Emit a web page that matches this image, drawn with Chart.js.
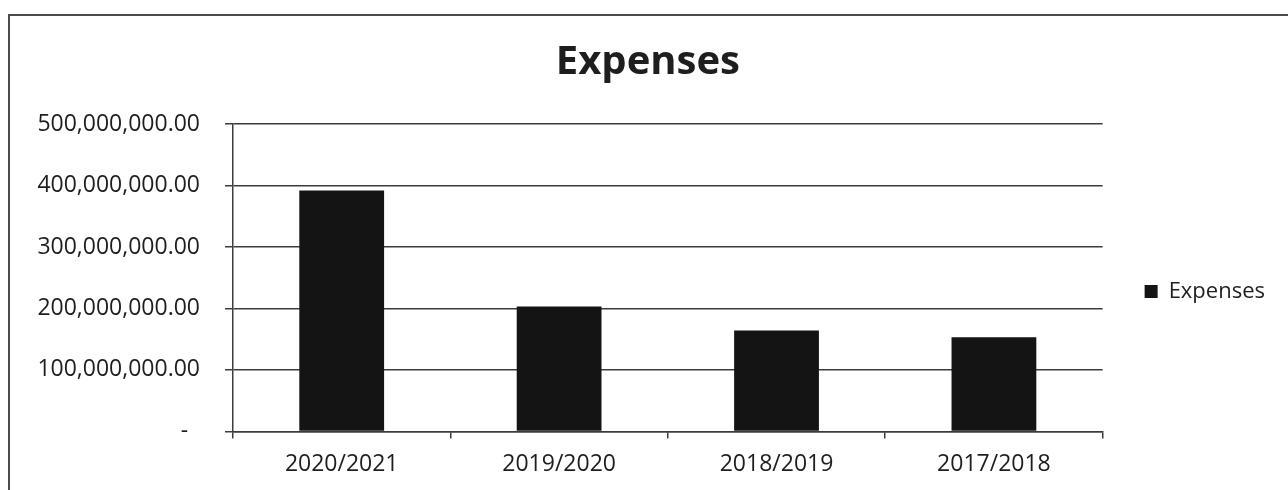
<!DOCTYPE html>
<html>
<head>
<meta charset="utf-8">
<title>Expenses</title>
<script src="https://cdn.jsdelivr.net/npm/chart.js@4.4.1/dist/chart.umd.min.js"></script>
<style>
  body { margin: 0; background: #fff; overflow: hidden; }
  #wrap { position: relative; width: 1288px; height: 490px; }
  #frame { position: absolute; left: 8px; top: 14px; width: 1400px; height: 600px;
           border-left: 2px solid #4a4a4a; border-top: 2px solid #4a4a4a; pointer-events: none; }
  canvas { position: absolute; left: 0; top: 0; }
</style>
</head>
<body>
<div id="wrap">
  <div id="frame"></div>
  <canvas id="expensesChart" width="1288" height="490"></canvas>
</div>
<script>
// Expenses per financial year (values in currency units)
var years = ["2020/2021", "2019/2020", "2018/2019", "2017/2018"];
var expenses = [392000000, 203000000, 164000000, 153000000];
var yTicks = [0, 100000000, 200000000, 300000000, 400000000, 500000000];

var lineCol = '#3c3c3c';
var textCol = '#1e1e1e';
var fontFam = '"Open Sans", "Noto Sans", sans-serif';

new Chart(document.getElementById('expensesChart'), {
  type: 'bar',
  data: {
    labels: years,
    datasets: [{
      label: 'Expenses',
      data: expenses,
      backgroundColor: '#141414',
      borderWidth: 0,
      barPercentage: 1,
      categoryPercentage: 0.39
    }]
  },
  options: {
    responsive: false,
    animation: false,
    layout: { padding: { top: 39, left: 0, right: 13, bottom: 0 } },
    plugins: {
      title: {
        display: true,
        // leading spaces push the title a few px right, like the original
        text: '  Expenses',
        color: textCol,
        font: { family: fontFam, size: 40, weight: 'bold', lineHeight: 1.2 },
        padding: { top: 0, bottom: 37 }
      },
      legend: {
        position: 'right',
        fullSize: false,
        // empty legend title only nudges the entry down to sit where the original has it
        title: { display: true, text: ' ', font: { size: 13, lineHeight: 1.2 }, padding: 6 },
        labels: {
          color: textCol,
          font: { family: fontFam, size: 22 },
          boxWidth: 13,
          boxHeight: 13,
          padding: 42
        }
      },
      tooltip: { enabled: false }
    },
    scales: {
      x: {
        grid: { display: true, drawOnChartArea: false, drawTicks: true, tickLength: 7, offset: true, color: lineCol, lineWidth: 1.5 },
        border: { display: true, color: lineCol, width: 1.5 },
        ticks: { color: textCol, font: { family: fontFam, size: 23 }, padding: 12 }
      },
      y: {
        min: 0,
        max: 500000000,
        afterFit: function(scale) { scale.width = 233; },
        afterBuildTicks: function(scale) { scale.ticks = yTicks.map(function(v) { return { value: v }; }); },
        grid: { color: lineCol, lineWidth: 1.5, drawTicks: true, tickLength: 8 },
        border: { display: true, color: lineCol, width: 1.5 },
        ticks: {
          color: textCol,
          font: { family: fontFam, size: 23 },
          padding: 25,
          callback: function(v) {
            if (v === 0) return '-  ';
            return v.toLocaleString('en-US', { minimumFractionDigits: 2, maximumFractionDigits: 2 });
          }
        }
      }
    }
  }
});
</script>
</body>
</html>
